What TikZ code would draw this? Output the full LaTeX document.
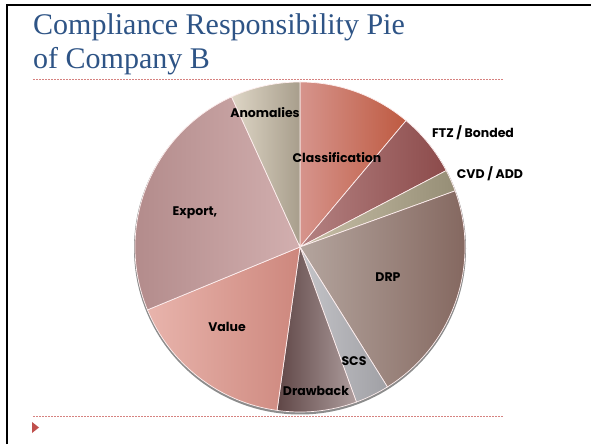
\documentclass[tikz,border=0pt]{standalone}
\usepackage{fontspec}
\setmainfont{Liberation Serif}
\newfontfamily\labfont{Poppins}
\usetikzlibrary{calc}
\definecolor{titleblue}{RGB}{46,84,134}
\definecolor{dashred}{RGB}{214,130,128}
\definecolor{trired}{RGB}{192,80,77}
\definecolor{clA}{RGB}{214,148,140}\definecolor{clB}{RGB}{190,90,65}
\definecolor{ftA}{RGB}{180,130,130}\definecolor{ftB}{RGB}{140,75,75}
\definecolor{cvA}{RGB}{200,192,168}\definecolor{cvB}{RGB}{150,142,118}
\definecolor{drA}{RGB}{180,165,158}\definecolor{drB}{RGB}{128,98,90}
\definecolor{scA}{RGB}{196,196,200}\definecolor{scB}{RGB}{160,160,165}
\definecolor{dbA}{RGB}{95,70,70}\definecolor{dbB}{RGB}{175,158,158}
\definecolor{vaA}{RGB}{232,180,172}\definecolor{vaB}{RGB}{205,135,125}
\definecolor{exA}{RGB}{175,135,135}\definecolor{exB}{RGB}{210,175,175}
\definecolor{anA}{RGB}{222,214,198}\definecolor{anB}{RGB}{168,158,140}
\tikzset{
  lab/.style={font=\labfont\bfseries\fontsize{12.5}{14}\selectfont, text=black, inner sep=0pt},
  slice/.style={draw=white!75!pink, line width=0.7pt},
  dashline/.style={draw=dashred, line width=0.6pt, dash pattern=on 2pt off 1pt},
  ttl/.style={anchor=base west, inner sep=0pt, text=titleblue, font=\fontsize{30}{34}\selectfont},
}
\newcommand{\pieslice}[4]{% start, end, left color, right color
  \path[slice, left color=#3, right color=#4] (C) -- ($(C)+(#1:165)$) arc[start angle=#1, end angle=#2, radius=165] -- cycle;
}
\begin{document}
\begin{tikzpicture}[x=1pt,y=1pt]
\useasboundingbox (0,0) rectangle (591,444);
\fill[white] (0,0) rectangle (591,444);
% frame
\draw[black, line width=2pt] (7,0) -- (7,438.5) -- (591,438.5);
% title
\node[ttl] (t1) at (33,409) {Compliance Responsibility Pie};
\node[ttl] (t2) at (33,375) {of Company B};
\draw[dashline] (33,365) -- (503,365);
\draw[dashline] (33,28) -- (503,28);
\fill[trired] (32,22) -- (39,16.5) -- (32,11) -- cycle;
% pie
\coordinate (C) at (300,197);
\fill[black!45] ($(C)+(0,-1.5)$) circle[radius=166];
\pieslice{50}{90}{clA}{clB}
\pieslice{27.6}{50}{ftA}{ftB}
\pieslice{19.9}{27.6}{cvA}{cvB}
\pieslice{-58}{19.9}{drA}{drB}
\pieslice{-70}{-58}{scA}{scB}
\pieslice{-98}{-70}{dbA}{dbB}
\pieslice{-157.6}{-98}{vaA}{vaB}
\pieslice{114.5}{202.4}{exA}{exB}
\pieslice{90}{114.5}{anA}{anB}
% labels
\node[lab] (anom) at (265,331) {Anomalies};
\node[lab] (clas) at (337,286) {Classification};
\node[lab] (ftz) at (473,311) {FTZ / Bonded};
\node[lab] (cvd) at (490,270) {CVD / ADD};
\node[lab] (exp) at (195,231) {Export,};
\node[lab] (drp) at (388,167) {DRP};
\node[lab] (val) at (227,117) {Value};
\node[lab] (scs) at (354,83) {SCS};
\node[lab] (draw) at (316,53) {Drawback};
\end{tikzpicture}
\end{document}
